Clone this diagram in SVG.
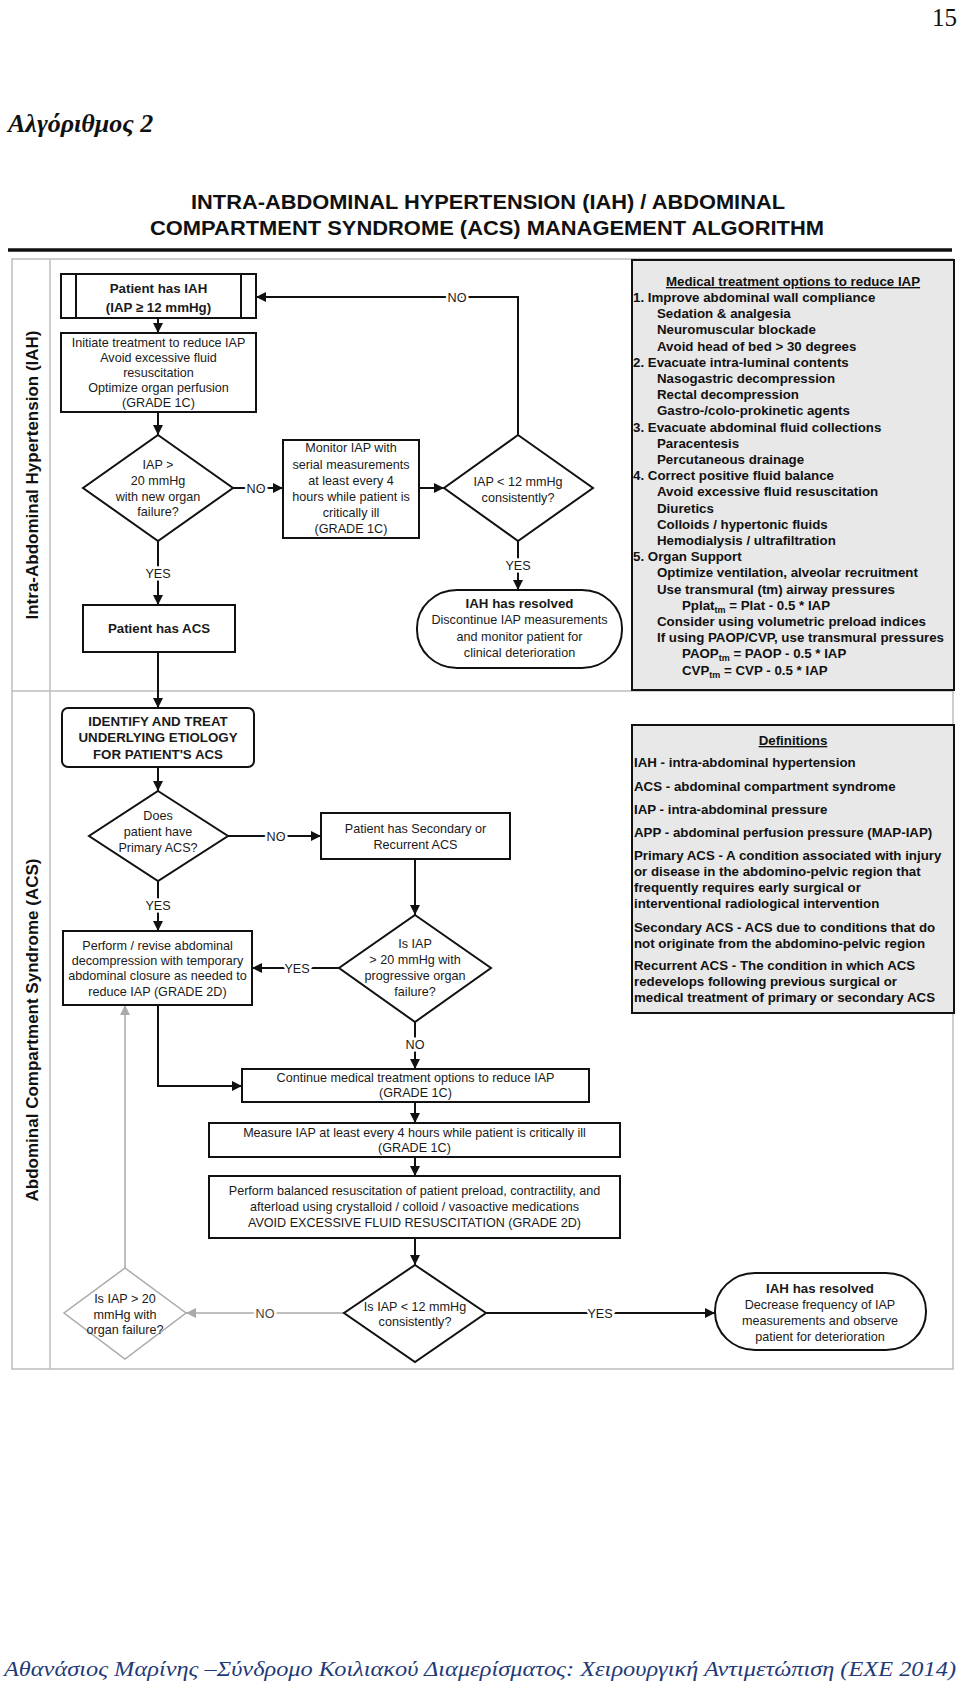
<svg xmlns="http://www.w3.org/2000/svg" width="960" height="1684" viewBox="0 0 960 1684">
<style>
.frame{fill:none;stroke:#bdbdbd;stroke-width:1.5}
.box{fill:#fff;stroke:#111;stroke-width:2}
.gbox{fill:#fff;stroke:#aaa;stroke-width:1.5}
.panel{fill:#e8e8e8;stroke:#111;stroke-width:2}
.t{font-family:"Liberation Sans",Arial,sans-serif;font-size:12.6px;fill:#1a1a1a;text-anchor:middle}
.b{font-weight:bold;font-size:13.3px}
.p{font-family:"Liberation Sans",Arial,sans-serif;font-size:13.3px;font-weight:bold;fill:#111}
.u{text-decoration:underline}
.lane{font-family:"Liberation Sans",Arial,sans-serif;font-size:17px;font-weight:bold;fill:#111;text-anchor:middle}
.ln{stroke:#111;stroke-width:2;fill:none}
.gln{stroke:#aaa;stroke-width:1.5;fill:none}
.lbl{font-family:"Liberation Sans",Arial,sans-serif;font-size:12.6px;fill:#1a1a1a;text-anchor:middle;stroke:#fff;stroke-width:5;paint-order:stroke}
.glbl{fill:#444}
.sub{font-size:9px}
</style>
<defs>
<marker id="ah" viewBox="0 0 10 10" refX="10" refY="5" markerWidth="10" markerHeight="10" markerUnits="userSpaceOnUse" orient="auto"><path d="M0,0 L10,5 L0,10 z" fill="#111"/></marker>
<marker id="gah" viewBox="0 0 10 10" refX="10" refY="5" markerWidth="10" markerHeight="10" markerUnits="userSpaceOnUse" orient="auto"><path d="M0,0 L10,5 L0,10 z" fill="#aaa"/></marker>
</defs>
<rect width="960" height="1684" fill="#fff"/>

<g id="page">
<text x="957" y="26" font-family="Liberation Serif,serif" font-size="25" text-anchor="end" fill="#111">15</text>
<text x="8" y="132" font-family="Liberation Serif,serif" font-size="26" font-style="italic" font-weight="bold" fill="#111">Αλγόριθμος 2</text>
<text x="4" y="1676" font-family="Liberation Serif,serif" font-size="22" font-style="italic" fill="#1f3a78" textLength="952" lengthAdjust="spacingAndGlyphs">Αθανάσιος Μαρίνης –Σύνδρομο Κοιλιακού Διαμερίσματος: Χειρουργική Αντιμετώπιση (ΕΧΕ 2014)</text>
</g>

<g id="title">
<text x="191" y="209" font-family="Liberation Sans,Arial,sans-serif" font-size="20" font-weight="bold" fill="#111" textLength="594" lengthAdjust="spacingAndGlyphs">INTRA-ABDOMINAL HYPERTENSION (IAH) / ABDOMINAL</text>
<text x="150" y="235" font-family="Liberation Sans,Arial,sans-serif" font-size="20" font-weight="bold" fill="#111" textLength="674" lengthAdjust="spacingAndGlyphs">COMPARTMENT SYNDROME (ACS) MANAGEMENT ALGORITHM</text>
<line x1="8" y1="250" x2="952" y2="250" stroke="#111" stroke-width="3.5"/>
</g>

<g id="lanes">
<rect class="frame" x="12" y="259" width="941" height="1110"/>
<line class="frame" x1="50" y1="259" x2="50" y2="1369"/>
<line class="frame" x1="12" y1="691" x2="953" y2="691"/>
<text class="lane" transform="translate(38,475) rotate(-90)">Intra-Abdominal Hypertension (IAH)</text>
<text class="lane" transform="translate(38,1030) rotate(-90)">Abdominal Compartment Syndrome (ACS)</text>
</g>

<g id="connectors">
<line class="ln" x1="158" y1="318" x2="158" y2="333" marker-end="url(#ah)"/>
<line class="ln" x1="158" y1="412" x2="158" y2="435" marker-end="url(#ah)"/>
<line class="ln" x1="233" y1="488" x2="283" y2="488" marker-end="url(#ah)"/>
<text class="lbl" x="256" y="492.5">NO</text>
<line class="ln" x1="419" y1="488" x2="444" y2="488" marker-end="url(#ah)"/>
<path class="ln" d="M518,435 V297 H256" marker-end="url(#ah)"/>
<text class="lbl" x="457" y="301.5">NO</text>
<line class="ln" x1="518" y1="541" x2="518" y2="590" marker-end="url(#ah)"/>
<text class="lbl" x="518" y="569.5">YES</text>
<line class="ln" x1="158" y1="541" x2="158" y2="605" marker-end="url(#ah)"/>
<text class="lbl" x="158" y="577.5">YES</text>
<line class="ln" x1="158" y1="652" x2="158" y2="708" marker-end="url(#ah)"/>
<line class="ln" x1="158" y1="767" x2="158" y2="791" marker-end="url(#ah)"/>
<line class="ln" x1="228" y1="836" x2="321" y2="836" marker-end="url(#ah)"/>
<text class="lbl" x="276" y="841">NO</text>
<line class="ln" x1="415" y1="859" x2="415" y2="915" marker-end="url(#ah)"/>
<line class="ln" x1="339" y1="968" x2="252" y2="968" marker-end="url(#ah)"/>
<text class="lbl" x="297" y="972.5">YES</text>
<line class="ln" x1="158" y1="881" x2="158" y2="931" marker-end="url(#ah)"/>
<text class="lbl" x="158" y="909.5">YES</text>
<path class="ln" d="M158,1005 V1086 H242" marker-end="url(#ah)"/>
<line class="ln" x1="415" y1="1022" x2="415" y2="1069" marker-end="url(#ah)"/>
<text class="lbl" x="415" y="1048.5">NO</text>
<line class="ln" x1="415" y1="1102" x2="415" y2="1123" marker-end="url(#ah)"/>
<line class="ln" x1="415" y1="1157" x2="415" y2="1176" marker-end="url(#ah)"/>
<line class="ln" x1="415" y1="1238" x2="415" y2="1265" marker-end="url(#ah)"/>
<line class="ln" x1="486" y1="1313" x2="715" y2="1313" marker-end="url(#ah)"/>
<text class="lbl" x="600" y="1317.5">YES</text>
<line class="gln" x1="344" y1="1313" x2="186" y2="1313" marker-end="url(#gah)"/>
<text class="lbl glbl" x="265" y="1317.5">NO</text>
<line class="gln" x1="125" y1="1268" x2="125" y2="1005" marker-end="url(#gah)"/>
</g>

<g id="n-patient-iah">
<rect class="box" x="61" y="274" width="195" height="44"/>
<line class="ln" x1="76" y1="274" x2="76" y2="318"/>
<line class="ln" x1="241" y1="274" x2="241" y2="318"/>
<text class="t b" x="158.5" y="292.5">Patient has IAH</text>
<text class="t b" x="158.5" y="311.5">(IAP ≥ 12 mmHg)</text>
</g>

<g id="n-initiate">
<rect class="box" x="61" y="333" width="195" height="79"/>
<text class="t" x="158.5" y="346.5">Initiate treatment to reduce IAP</text>
<text class="t" x="158.5" y="361.5">Avoid excessive fluid</text>
<text class="t" x="158.5" y="376.5">resuscitation</text>
<text class="t" x="158.5" y="391.5">Optimize organ perfusion</text>
<text class="t" x="158.5" y="406.5">(GRADE 1C)</text>
</g>

<g id="n-iap20">
<polygon class="box" points="158,435 233,488 158,541 83,488"/>
<text class="t" x="158" y="469">IAP &gt;</text>
<text class="t" x="158" y="484.5">20 mmHg</text>
<text class="t" x="158" y="500.5">with new organ</text>
<text class="t" x="158" y="516">failure?</text>
</g>

<g id="n-monitor">
<rect class="box" x="283" y="440" width="136" height="98"/>
<text class="t" x="351" y="452">Monitor IAP with</text>
<text class="t" x="351" y="468.5">serial measurements</text>
<text class="t" x="351" y="484.5">at least every 4</text>
<text class="t" x="351" y="500.5">hours while patient is</text>
<text class="t" x="351" y="517">critically ill</text>
<text class="t" x="351" y="533">(GRADE 1C)</text>
</g>

<g id="n-iap12">
<polygon class="box" points="518,435 593,488 518,541 444,488"/>
<text class="t" x="518" y="486">IAP &lt; 12 mmHg</text>
<text class="t" x="518" y="502">consistently?</text>
</g>

<g id="n-resolved1">
<rect class="box" x="417" y="590" width="205" height="78" rx="40" ry="38"/>
<text class="t b" x="519.5" y="608">IAH has resolved</text>
<text class="t" x="519.5" y="624">Discontinue IAP measurements</text>
<text class="t" x="519.5" y="640.5">and monitor patient for</text>
<text class="t" x="519.5" y="657">clinical deterioration</text>
</g>

<g id="n-patient-acs">
<rect class="box" x="83" y="605" width="152" height="47"/>
<text class="t b" x="159" y="632.5">Patient has ACS</text>
</g>

<g id="n-medical">
<rect class="panel" x="632" y="260" width="322" height="430"/>
<text class="p u" x="793" y="286" text-anchor="middle">Medical treatment options to reduce IAP</text>
<text class="p" x="633" y="302">1. Improve abdominal wall compliance</text>
<text class="p" x="657" y="318.2">Sedation &amp; analgesia</text>
<text class="p" x="657" y="334.4">Neuromuscular blockade</text>
<text class="p" x="657" y="350.6">Avoid head of bed &gt; 30 degrees</text>
<text class="p" x="633" y="366.8">2. Evacuate intra-luminal contents</text>
<text class="p" x="657" y="383">Nasogastric decompression</text>
<text class="p" x="657" y="399.2">Rectal decompression</text>
<text class="p" x="657" y="415.4">Gastro-/colo-prokinetic agents</text>
<text class="p" x="633" y="431.6">3. Evacuate abdominal fluid collections</text>
<text class="p" x="657" y="447.8">Paracentesis</text>
<text class="p" x="657" y="464">Percutaneous drainage</text>
<text class="p" x="633" y="480.2">4. Correct positive fluid balance</text>
<text class="p" x="657" y="496.4">Avoid excessive fluid resuscitation</text>
<text class="p" x="657" y="512.6">Diuretics</text>
<text class="p" x="657" y="528.8">Colloids / hypertonic fluids</text>
<text class="p" x="657" y="545">Hemodialysis / ultrafiltration</text>
<text class="p" x="633" y="561.2">5. Organ Support</text>
<text class="p" x="657" y="577.4">Optimize ventilation, alveolar recruitment</text>
<text class="p" x="657" y="593.6">Use transmural (tm) airway pressures</text>
<text class="p" x="682" y="609.8">Pplat<tspan class="sub" dy="3">tm</tspan><tspan dy="-3"> = Plat - 0.5 * IAP</tspan></text>
<text class="p" x="657" y="626">Consider using volumetric preload indices</text>
<text class="p" x="657" y="642.2">If using PAOP/CVP, use transmural pressures</text>
<text class="p" x="682" y="658.4">PAOP<tspan class="sub" dy="3">tm</tspan><tspan dy="-3"> = PAOP - 0.5 * IAP</tspan></text>
<text class="p" x="682" y="674.6">CVP<tspan class="sub" dy="3">tm</tspan><tspan dy="-3"> = CVP - 0.5 * IAP</tspan></text>
</g>

<g id="n-identify">
<rect class="box" x="62" y="708" width="192" height="59" rx="6" ry="6"/>
<text class="t b" x="158" y="725.5">IDENTIFY AND TREAT</text>
<text class="t b" x="158" y="742">UNDERLYING ETIOLOGY</text>
<text class="t b" x="158" y="758.5">FOR PATIENT'S ACS</text>
</g>

<g id="n-primary">
<polygon class="box" points="158,791 228,836 158,881 89,836"/>
<text class="t" x="158" y="820">Does</text>
<text class="t" x="158" y="836">patient have</text>
<text class="t" x="158" y="852">Primary ACS?</text>
</g>

<g id="n-secondary">
<rect class="box" x="321" y="813" width="189" height="46"/>
<text class="t" x="415.5" y="832.5">Patient has Secondary or</text>
<text class="t" x="415.5" y="848.5">Recurrent ACS</text>
</g>

<g id="n-iap20-progressive">
<polygon class="box" points="415,915 491,968 415,1022 339,968"/>
<text class="t" x="415" y="947.5">Is IAP</text>
<text class="t" x="415" y="963.5">&gt; 20 mmHg with</text>
<text class="t" x="415" y="980">progressive organ</text>
<text class="t" x="415" y="996">failure?</text>
</g>

<g id="n-perform">
<rect class="box" x="63" y="931" width="189" height="74"/>
<text class="t" x="157.5" y="949.5">Perform / revise abdominal</text>
<text class="t" x="157.5" y="965">decompression with temporary</text>
<text class="t" x="157.5" y="980">abdominal closure as needed to</text>
<text class="t" x="157.5" y="995.5">reduce IAP (GRADE 2D)</text>
</g>

<g id="n-definitions">
<rect class="panel" x="632" y="725" width="322" height="288"/>
<text class="p u" x="793" y="745" text-anchor="middle">Definitions</text>
<text class="p" x="634" y="767">IAH - intra-abdominal hypertension</text>
<text class="p" x="634" y="791">ACS - abdominal compartment syndrome</text>
<text class="p" x="634" y="814">IAP - intra-abdominal pressure</text>
<text class="p" x="634" y="837">APP - abdominal perfusion pressure (MAP-IAP)</text>
<text class="p" x="634" y="860">Primary ACS - A condition associated with injury</text>
<text class="p" x="634" y="876">or disease in the abdomino-pelvic region that</text>
<text class="p" x="634" y="892">frequently requires early surgical or</text>
<text class="p" x="634" y="908">interventional radiological intervention</text>
<text class="p" x="634" y="932">Secondary ACS - ACS due to conditions that do</text>
<text class="p" x="634" y="948">not originate from the abdomino-pelvic region</text>
<text class="p" x="634" y="970">Recurrent ACS - The condition in which ACS</text>
<text class="p" x="634" y="986">redevelops following previous surgical or</text>
<text class="p" x="634" y="1002">medical treatment of primary or secondary ACS</text>
</g>

<g id="n-continue">
<rect class="box" x="242" y="1069" width="347" height="33"/>
<text class="t" x="415.5" y="1082">Continue medical treatment options to reduce IAP</text>
<text class="t" x="415.5" y="1097">(GRADE 1C)</text>
</g>

<g id="n-measure">
<rect class="box" x="209" y="1123" width="411" height="34"/>
<text class="t" x="414.5" y="1137">Measure IAP at least every 4 hours while patient is critically ill</text>
<text class="t" x="414.5" y="1152">(GRADE 1C)</text>
</g>

<g id="n-balanced">
<rect class="box" x="209" y="1176" width="411" height="62"/>
<text class="t" x="414.5" y="1195">Perform balanced resuscitation of patient preload, contractility, and</text>
<text class="t" x="414.5" y="1211">afterload using crystalloid / colloid / vasoactive medications</text>
<text class="t" x="414.5" y="1227">AVOID EXCESSIVE FLUID RESUSCITATION (GRADE 2D)</text>
</g>

<g id="n-iap12-bottom">
<polygon class="box" points="415,1265 486,1313 415,1362 344,1313"/>
<text class="t" x="415" y="1310.5">Is IAP &lt; 12 mmHg</text>
<text class="t" x="415" y="1326">consistently?</text>
</g>

<g id="n-iap20-bottom">
<polygon class="gbox" points="125,1268 186,1313 125,1359 64,1313"/>
<text class="t" x="125" y="1302.5" fill="#333">Is IAP &gt; 20</text>
<text class="t" x="125" y="1318.5" fill="#333">mmHg with</text>
<text class="t" x="125" y="1334" fill="#333">organ failure?</text>
</g>

<g id="n-resolved2">
<rect class="box" x="715" y="1273" width="211" height="77" rx="40" ry="38"/>
<text class="t b" x="820" y="1292.5">IAH has resolved</text>
<text class="t" x="820" y="1308.5">Decrease frequency of IAP</text>
<text class="t" x="820" y="1324.5">measurements and observe</text>
<text class="t" x="820" y="1340.5">patient for deterioration</text>
</g>
</svg>
